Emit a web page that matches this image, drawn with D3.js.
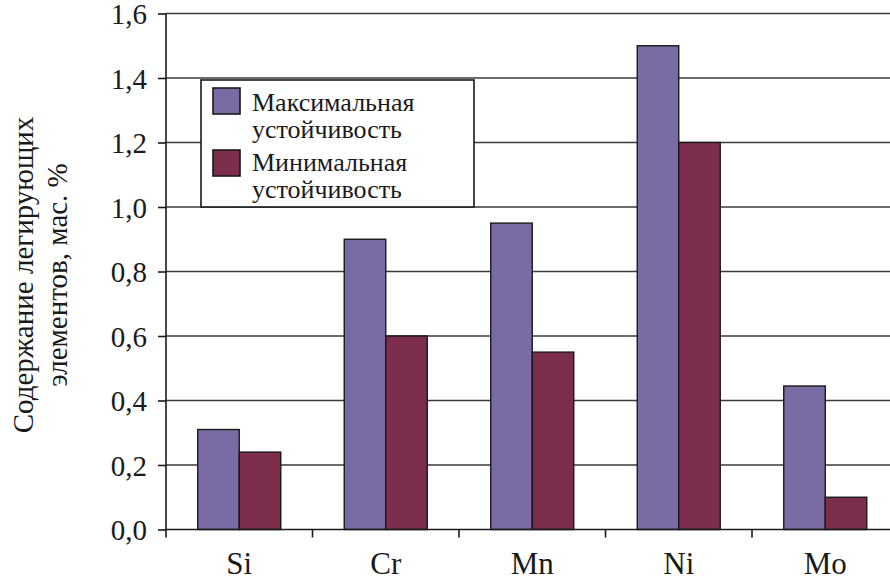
<!DOCTYPE html>
<html>
<head>
<meta charset="utf-8">
<script src="https://cdn.jsdelivr.net/npm/d3@7"></script>
<style>
  html, body { margin: 0; padding: 0; background: #fff; }
  svg { display: block; }
  svg text { fill: #1a1a1a; }
</style>
</head>
<body>
<svg id="chart" width="890" height="581"></svg>
<script>
// Alloying element content, wt. %
const categories = ["Si", "Cr", "Mn", "Ni", "Mo"];
const seriesNames = ["Максимальная устойчивость", "Минимальная устойчивость"];
const maxStability = [0.31, 0.90, 0.95, 1.50, 0.445];
const minStability = [0.24, 0.60, 0.55, 1.20, 0.10];
const yTicks = [0, 0.2, 0.4, 0.6, 0.8, 1.0, 1.2, 1.4, 1.6];
const colors = ["#7a6ba4", "#7b2d4b"];

const serif = '"Liberation Serif", Tinos, "Times New Roman", "DejaVu Serif", serif';

const svg = d3.select("#chart");
const margin = { left: 166, top: 13.5, bottom: 51.5 };
const height = 581;
const step = 146.5;

const x = d3.scaleBand()
  .domain(categories)
  .range([margin.left, margin.left + step * categories.length])
  .padding(0);

const x1 = d3.scaleBand()
  .domain([0, 1])
  .range([0, x.bandwidth()])
  .paddingInner(0)
  .paddingOuter(0.765);

const y = d3.scaleLinear()
  .domain([0, 1.6])
  .range([height - margin.bottom, margin.top]);

const fmt = d => d.toFixed(1).replace(".", ",");

// Horizontal gridlines
svg.append("g")
  .selectAll("line")
  .data(yTicks.slice(1))
  .join("line")
  .attr("x1", margin.left)
  .attr("x2", 900)
  .attr("y1", d => y(d))
  .attr("y2", d => y(d))
  .attr("stroke", "#3a3a3a")
  .attr("stroke-width", 1.6);

// Bars
const rows = categories.map((c, i) => ({ c, v: [maxStability[i], minStability[i]] }));
svg.append("g")
  .selectAll("g")
  .data(rows)
  .join("g")
  .attr("transform", d => `translate(${x(d.c)},0)`)
  .selectAll("rect")
  .data(d => d.v.map((v, k) => ({ v, k })))
  .join("rect")
  .attr("x", d => x1(d.k))
  .attr("width", x1.bandwidth())
  .attr("y", d => y(d.v))
  .attr("height", d => y(0) - y(d.v))
  .attr("fill", d => colors[d.k])
  .attr("stroke", "#1a1a1a")
  .attr("stroke-width", 1.4);

// Y axis
const yAxis = svg.append("g")
  .attr("transform", `translate(${margin.left},0)`)
  .call(d3.axisLeft(y).tickValues(yTicks).tickFormat(fmt).tickSize(8).tickPadding(11))
  .attr("font-family", serif)
  .attr("font-size", 29);
yAxis.select(".domain").attr("stroke", "#1a1a1a").attr("stroke-width", 1.6)
  .attr("d", `M0,${y(1.6)}V${y(0)}`);
yAxis.selectAll(".tick line").attr("stroke", "#1a1a1a").attr("stroke-width", 1.6);
yAxis.selectAll(".tick text").attr("fill", "#1a1a1a").attr("dy", "0.36em");

// X axis
const xAxis = svg.append("g")
  .attr("transform", `translate(0,${y(0)})`)
  .attr("font-family", serif);
xAxis.append("line")
  .attr("x1", margin.left).attr("x2", 900)
  .attr("stroke", "#1a1a1a").attr("stroke-width", 1.6);
xAxis.selectAll("line.tk")
  .data(d3.range(categories.length + 1))
  .join("line")
  .attr("class", "tk")
  .attr("x1", i => margin.left + i * x.step())
  .attr("x2", i => margin.left + i * x.step())
  .attr("y1", 0).attr("y2", 8)
  .attr("stroke", "#1a1a1a").attr("stroke-width", 1.6);
xAxis.selectAll("text")
  .data(categories)
  .join("text")
  .attr("x", d => x(d) + x.bandwidth() / 2)
  .attr("y", 44)
  .attr("text-anchor", "middle")
  .attr("font-size", 31)
  .text(d => d);

// Y axis title
const title = svg.append("text")
  .attr("transform", "translate(0,275) rotate(-90)")
  .attr("text-anchor", "middle")
  .attr("font-family", serif)
  .attr("font-size", 29);
title.append("tspan").attr("x", 0).attr("y", 33).text("Содержание легирующих");
title.append("tspan").attr("x", 0).attr("y", 67).text("элементов, мас. %");

// Legend
const legend = svg.append("g").attr("transform", "translate(201,80)");
legend.append("rect")
  .attr("width", 273).attr("height", 127)
  .attr("fill", "#fff").attr("stroke", "#1a1a1a").attr("stroke-width", 1.6);
const legendLines = [["Максимальная", "устойчивость"], ["Минимальная", "устойчивость"]];
seriesNames.forEach((name, k) => {
  const gy = 8 + k * 62;
  legend.append("rect")
    .attr("x", 12).attr("y", gy).attr("width", 27).attr("height", 26)
    .attr("fill", colors[k]).attr("stroke", "#1a1a1a").attr("stroke-width", 1.6);
  const t = legend.append("text").attr("font-family", serif).attr("font-size", 26);
  legendLines[k].forEach((ln, j) => {
    t.append("tspan").attr("x", 51).attr("y", 31 + k * 60 + j * 27).text(ln);
  });
});
</script>
</body>
</html>
